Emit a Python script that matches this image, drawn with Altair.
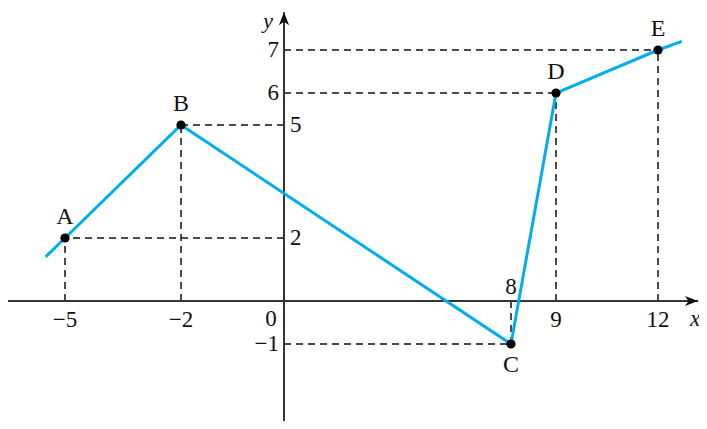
import altair as alt
import pandas as pd

# ---- data ----
POINT_NAMES = ["A", "B", "C", "D", "E"]
POINT_X = [-5, -2, 8, 9, 12]
POINT_Y = [2, 5, -1, 6, 7]

# polyline (extends a little beyond A and E)
LINE_X = [-5.5, -5, -2, 8, 9, 12, 12.7]
LINE_Y = [1.4, 2, 5, -1, 6, 7, 7.2]

X_TICKS_BELOW = [-5, -2, 9, 12]
X_TICKS_ABOVE = [8]
Y_TICKS_LEFT = [7, 6, -1]
Y_TICKS_RIGHT = [5, 2]

X_AXIS_ENDS = [-6.8, 13.18]
Y_AXIS_ENDS = [-2.8, 7.88]

# the drawing is not to scale: piecewise-linear scales reproduce it
X_BREAKS = [-5, -2, 0, 8, 9, 12]
X_PIX = [57, 173, 276, 503, 548, 650]
Y_BREAKS = [-1, 0, 2, 5, 6, 7]
Y_PIX = [336, 293, 230, 117, 85, 42]

FONT = "Liberation Serif"
BLUE = "#00aeef"
INK = "#111111"


def fmt(v):
    return str(v).replace("-", "\u2212")


xs = alt.Scale(domain=X_BREAKS, range=X_PIX, nice=False, zero=False)
ys = alt.Scale(domain=Y_BREAKS, range=Y_PIX, nice=False, zero=False)


def X(f):
    return alt.X(f, type="quantitative", scale=xs, axis=None)


def Y(f):
    return alt.Y(f, type="quantitative", scale=ys, axis=None)


pts = pd.DataFrame({"name": POINT_NAMES, "px": POINT_X, "py": POINT_Y, "zero": 0})
line_df = pd.DataFrame({"x": LINE_X, "y": LINE_Y, "i": range(len(LINE_X))})

# dashed guides
h_dash = alt.Chart(pts).mark_rule(color=INK, strokeWidth=1.5, strokeDash=[7, 5]).encode(
    x=X("zero"), x2="px", y=Y("py"))
v_dash = alt.Chart(pts).mark_rule(color=INK, strokeWidth=1.5, strokeDash=[7, 5]).encode(
    x=X("px"), y=Y("zero"), y2="py")

# axes
xaxis_df = pd.DataFrame({"x": [X_AXIS_ENDS[0]], "x2": [X_AXIS_ENDS[1]], "y": [0]})
yaxis_df = pd.DataFrame({"x": [0], "y": [Y_AXIS_ENDS[0]], "y2": [Y_AXIS_ENDS[1]]})
x_axis = alt.Chart(xaxis_df).mark_rule(color="#333333", strokeWidth=2).encode(
    x=X("x"), x2="x2", y=Y("y"))
y_axis = alt.Chart(yaxis_df).mark_rule(color="#333333", strokeWidth=2).encode(
    x=X("x"), y=Y("y"), y2="y2")

x_arrow = alt.Chart(pd.DataFrame({"x": [X_AXIS_ENDS[1]], "y": [0]})).mark_point(
    shape="M0,0 L-2.2,-0.85 L-1.6,0 L-2.2,0.85 Z", size=144, filled=True, color=INK, opacity=1
).encode(x=X("x"), y=Y("y"))
y_arrow = alt.Chart(pd.DataFrame({"x": [0], "y": [Y_AXIS_ENDS[1]]})).mark_point(
    shape="M0,0 L-0.85,2.2 L0,1.6 L0.85,2.2 Z", size=144, filled=True, color=INK, opacity=1
).encode(x=X("x"), y=Y("y"))

# polyline and points
poly = alt.Chart(line_df).mark_line(color=BLUE, strokeWidth=3).encode(
    x=X("x"), y=Y("y"), order="i:O")
dots = alt.Chart(pts).mark_circle(color="black", size=85, opacity=1).encode(
    x=X("px"), y=Y("py"))

# point labels
lab_above = alt.Chart(pts).transform_filter("datum.name != 'C'").mark_text(
    font=FONT, fontSize=24, dy=-21, baseline="middle", color=INK).encode(
    x=X("px"), y=Y("py"), text="name:N")
lab_below = alt.Chart(pts).transform_filter("datum.name == 'C'").mark_text(
    font=FONT, fontSize=24, dy=21, baseline="middle", color=INK).encode(
    x=X("px"), y=Y("py"), text="name:N")

# tick labels
def tick_df(vals, on_x):
    if on_x:
        return pd.DataFrame({"x": vals, "y": [0] * len(vals), "t": [fmt(v) for v in vals]})
    return pd.DataFrame({"x": [0] * len(vals), "y": vals, "t": [fmt(v) for v in vals]})


xt_below = alt.Chart(tick_df(X_TICKS_BELOW, True)).mark_text(
    font=FONT, fontSize=23, dy=19, baseline="middle", color=INK).encode(
    x=X("x"), y=Y("y"), text="t:N")
xt_above = alt.Chart(tick_df(X_TICKS_ABOVE, True)).mark_text(
    font=FONT, fontSize=23, dy=-14, baseline="middle", color=INK).encode(
    x=X("x"), y=Y("y"), text="t:N")
yt_left = alt.Chart(tick_df(Y_TICKS_LEFT, False)).mark_text(
    font=FONT, fontSize=23, dx=-5, align="right", baseline="middle", color=INK).encode(
    x=X("x"), y=Y("y"), text="t:N")
yt_right = alt.Chart(tick_df(Y_TICKS_RIGHT, False)).mark_text(
    font=FONT, fontSize=23, dx=6, align="left", baseline="middle", color=INK).encode(
    x=X("x"), y=Y("y"), text="t:N")
origin = alt.Chart(pd.DataFrame({"x": [0], "y": [0], "t": ["0"]})).mark_text(
    font=FONT, fontSize=23, dx=-13, dy=18, baseline="middle", color=INK).encode(
    x=X("x"), y=Y("y"), text="t:N")

x_name = alt.Chart(pd.DataFrame({"x": [X_AXIS_ENDS[1]], "y": [0], "t": ["x"]})).mark_text(
    font=FONT, fontSize=23, fontStyle="italic", dx=-3, dy=18, baseline="middle", color=INK).encode(
    x=X("x"), y=Y("y"), text="t:N")
y_name = alt.Chart(pd.DataFrame({"x": [0], "y": [Y_AXIS_ENDS[1]], "t": ["y"]})).mark_text(
    font=FONT, fontSize=22, fontStyle="italic", dx=-16, dy=9, baseline="middle", color=INK).encode(
    x=X("x"), y=Y("y"), text="t:N")

chart = alt.layer(
    h_dash, v_dash, x_axis, y_axis, x_arrow, y_arrow, poly, dots,
    lab_above, lab_below, xt_below, xt_above, yt_left, yt_right, origin, x_name, y_name
).properties(
    width=691, height=413, padding=0, autosize=alt.AutoSizeParams(type="none"),
    background="white"
).configure_view(stroke=None)

chart.save("out.html", embed_options={"renderer": "svg", "actions": False})
